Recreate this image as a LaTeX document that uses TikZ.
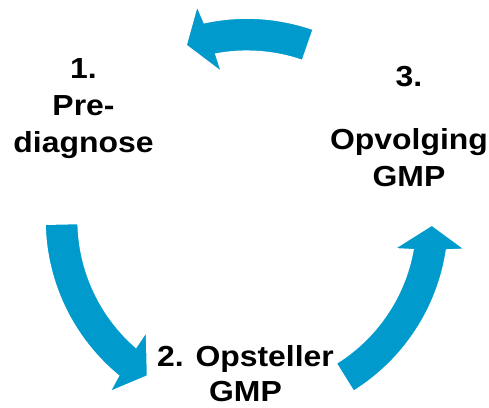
\documentclass[tikz,border=0pt]{standalone}
\usepackage{fontspec}
\setmainfont{Liberation Sans}[FakeStretch=1.1]
\usepackage{tikz}

\definecolor{cycleblue}{RGB}{0,155,204}

% one bent arrow of the cycle: #1 tail angle, #2 tip angle
\newcommand{\cyclearrow}[2]{%
  \path[arrowpart] (#1:201.9) arc[start angle=#1, end angle=#2-7, radius=201.9]
    -- (#2-6.1:220) -- (#2:185) -- (#2-9.5:150) -- (#2-8.6:168.8)
    arc[start angle=#2-8.6, end angle=#1, radius=168.8] -- cycle;}

\begin{document}
\begin{tikzpicture}[x=1pt, y=1pt, every node/.style={align=center, inner sep=0pt, anchor=base, font=\fontsize{29}{37}\selectfont\bfseries}, arrowpart/.style={fill=cycleblue, draw=white, line width=1.5pt}]
			\useasboundingbox (0,0) rectangle (489,407);
			\coordinate (c) at (246.9,187);
			
			\begin{scope}[shift={(c)}]
			\cyclearrow{70.8}{109.2}
			\cyclearrow{181.2}{237.5}
			\end{scope}
			
			% base = baseline of the last line
			\node (prediag) at (83.5,254.3) {1.\\Pre-\\diagnose};
			\node (opvolg) at (409,220.3) {3.\\[26pt]Opvolging\\GMP};
			\node (opstel) at (245.5,5.3) {2. Opsteller\\[-2pt]GMP};
			
			\begin{scope}[shift={(c)}]
			\cyclearrow{301.9}{358.45}
			\end{scope}
\end{tikzpicture}
\end{document}
